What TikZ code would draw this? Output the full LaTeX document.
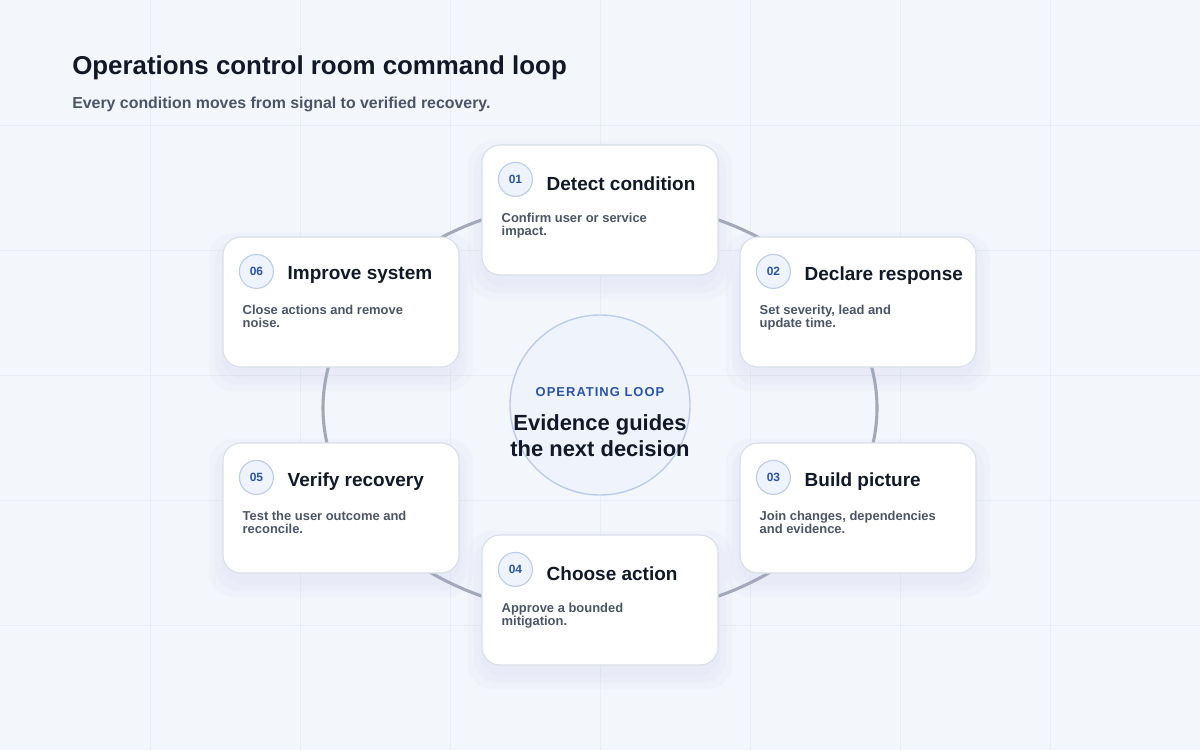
\documentclass[tikz,border=0pt]{standalone}
\usepackage{fontspec}
\setmainfont{Liberation Sans}
\usetikzlibrary{positioning,calc}
\definecolor{bgcol}{HTML}{F3F6FB}
\definecolor{gridcol}{HTML}{E8ECF3}
\definecolor{ringcol}{HTML}{A3A9B6}
\definecolor{inkcol}{HTML}{111827}
\definecolor{mutedcol}{HTML}{4B5565}
\definecolor{bluecol}{HTML}{2A54A6}
\definecolor{badgefill}{HTML}{EEF3FC}
\definecolor{badgeline}{HTML}{BCCDEB}
\definecolor{cardline}{HTML}{D9DFE8}
\tikzset{
    card/.style={draw=cardline, line width=0.8pt, fill=white, rounded corners=0.45cm,
        minimum width=5.9cm, minimum height=3.25cm},
    shade/.style={fill=black!30!blue!30, rounded corners=0.6cm, opacity=0.05,
        minimum width=#1, minimum height=#1-2.65cm},
    badge/.style={circle, draw=badgeline, line width=0.8pt, fill=badgefill, minimum size=0.85cm,
        inner sep=0pt, font=\fontsize{8.5}{10}\selectfont\bfseries, text=bluecol},
    steptitle/.style={anchor=west, inner sep=0pt, font=\fontsize{13.5}{16}\selectfont\bfseries, text=inkcol},
    stepnote/.style={anchor=north west, inner sep=0pt, align=left,
        font=\fontsize{9.2}{9.4}\selectfont\bfseries, text=mutedcol},
}
\newcommand{\stepcard}[6]{% name, x, y, number, title, note
    \foreach \sw in {6.0cm,6.3cm,6.6cm} \node[shade=\sw] at ($(#2,#3)+(0,10)$) {};
    \node[card] (#1) at (#2,#3) {};
    \node[badge] (#1b) at ($(#1.north west)+(34,35)$) {#4};
    \node[steptitle] (#1t) at ($(#1.north west)+(65,39)$) {#5};
    \node[stepnote] (#1n) at ($(#1.north west)+(20,68)$) {#6};
}
\begin{document}
\begin{tikzpicture}[x=0.025cm,y=-0.025cm]
    \fill[bgcol] (0,0) rectangle (1200,750);
    \useasboundingbox (0,0) rectangle (1200,750);
    % faint grid
    \foreach \gx in {150,300,...,1050} \draw[gridcol, line width=0.6pt] (\gx,0) -- (\gx,750);
    \foreach \gy in {125,250,...,625} \draw[gridcol, line width=0.6pt] (0,\gy) -- (1200,\gy);

    \node[anchor=west, inner sep=0pt, font=\fontsize{18.4}{22}\selectfont\bfseries, text=inkcol]
        (heading) at (72,68) {Operations control room command loop};
    \node[anchor=west, inner sep=0pt, font=\fontsize{11.3}{14}\selectfont\bfseries, text=mutedcol]
        (subheading) at (72,104) {Every condition moves from signal to verified recovery.};

    % centre and ring
    \node[circle, draw=badgeline, line width=1pt, fill=badgefill, minimum size=4.5cm] (hub) at (600,405) {};
    \draw[ringcol, line width=2.2pt] ($(hub.center)+(0,3)$) ellipse [x radius=277, y radius=208];
    \node[font=\fontsize{9.2}{11}\selectfont\bfseries, text=bluecol] (hublabel) at (600,392)
        {\addfontfeature{LetterSpace=8}OPERATING LOOP};
    \node[font=\fontsize{15.6}{18.5}\selectfont\bfseries, text=inkcol, align=center] (hubtext) at (600,436)
        {Evidence guides\\the next decision};

    % steps
    \stepcard{detect}{600}{210}{01}{Detect condition}{Confirm user or service\\impact.}
    \stepcard{declare}{858}{302}{02}{Declare response}{Set severity, lead and\\update time.}
    \stepcard{build}{858}{508}{03}{Build picture}{Join changes, dependencies\\and evidence.}
    \stepcard{choose}{600}{600}{04}{Choose action}{Approve a bounded\\mitigation.}
    \stepcard{verify}{341}{508}{05}{Verify recovery}{Test the user outcome and\\reconcile.}
    \stepcard{improve}{341}{302}{06}{Improve system}{Close actions and remove\\noise.}
\end{tikzpicture}
\end{document}
